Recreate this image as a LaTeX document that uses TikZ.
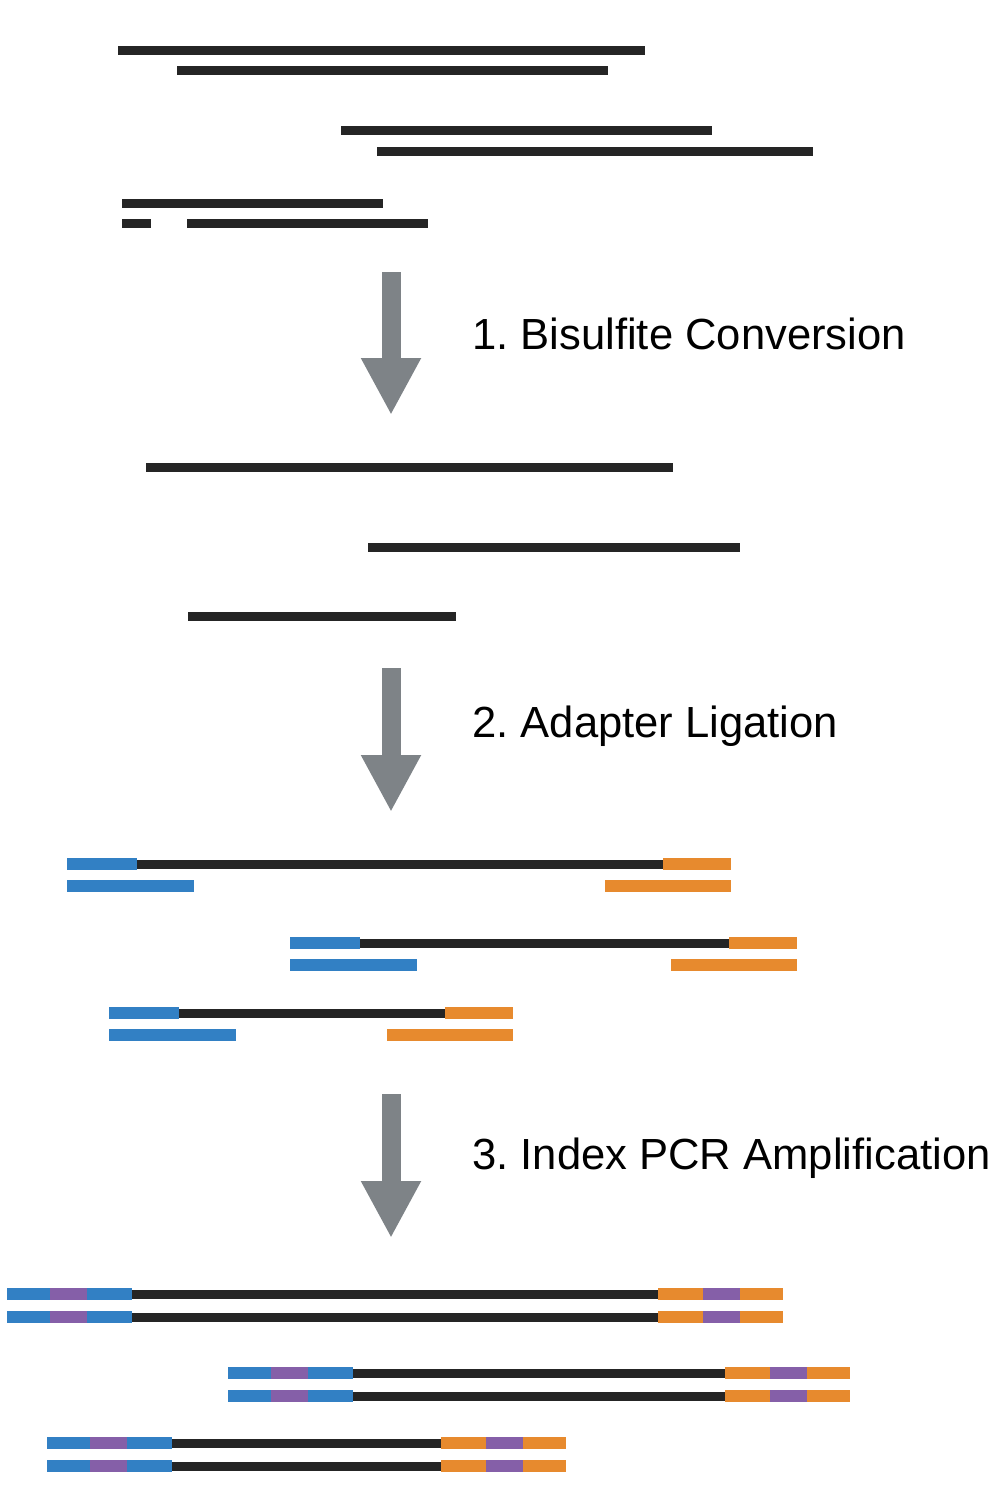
\documentclass[tikz,border=0pt]{standalone}
\usepackage{fontspec}
\setmainfont{Liberation Sans}
\usetikzlibrary{arrows.meta}
\frenchspacing

\definecolor{strandblack}{HTML}{252525}
\definecolor{adblue}{HTML}{3280C4}
\definecolor{adorange}{HTML}{E78A2E}
\definecolor{idxpurple}{HTML}{855FA8}
\definecolor{arrowgray}{HTML}{7E8387}

\begin{document}
\begin{tikzpicture}[x=0.02cm, y=-0.02cm,
  strand/.style={line width=0.18cm, draw=strandblack},
  adapt/.style={line width=0.24cm},
  steparrow/.style={line width=0.38cm, draw=arrowgray,
    -{Triangle[width=1.12cm, length=1.14cm, fill=arrowgray]}},
  steplabel/.style={anchor=base west, inner sep=0pt,
    font=\fontsize{24.8}{29}\selectfont}]
\useasboundingbox (0,0) rectangle (1002,1512);

% genomic DNA
\draw[strand] (118,50) -- (645,50);
\draw[strand] (177,70) -- (608,70);
\draw[strand] (341,130) -- (712,130);
\draw[strand] (377,151) -- (813,151);
\draw[strand] (122,203) -- (383,203);
\draw[strand] (122,223) -- (151,223);
\draw[strand] (187,223) -- (428,223);

% step 1
\coordinate (a1) at (391,272);
\coordinate (b1) at (391,415);
\draw[steparrow] (a1) -- (b1);
\node[steplabel] (conv) at (472,349) {1. Bisulfite Conversion};

% single strands
\draw[strand] (146,467) -- (673,467);
\draw[strand] (368,547) -- (740,547);
\draw[strand] (188,616) -- (456,616);

% step 2
\coordinate (a2) at (391,668);
\coordinate (b2) at (391,812);
\draw[steparrow] (a2) -- (b2);
\node[steplabel] (lig) at (472,737) {2. Adapter Ligation};

% adapters
\foreach \l/\r/\y in {67/731/864, 290/797/943, 109/513/1013} {
  \draw[strand] (\l+70,\y) -- (\r-68,\y);
  \draw[adapt, draw=adblue] (\l,\y) -- (\l+70,\y);
  \draw[adapt, draw=adorange] (\r-68,\y) -- (\r,\y);
  \draw[adapt, draw=adblue] (\l,\y+22) -- (\l+127,\y+22);
  \draw[adapt, draw=adorange] (\r-126,\y+22) -- (\r,\y+22);
}

% step 3
\coordinate (a3) at (391,1094);
\coordinate (b3) at (391,1238);
\draw[steparrow] (a3) -- (b3);
\node[steplabel] (pcr) at (472,1169) {3. Index PCR Amplification};

% indexed libraries
\foreach \l/\r/\y in {7/783/1294, 228/850/1373, 47/566/1443} {
  \foreach \yy in {\y, \y+23} {
    \draw[strand] (\l+125,\yy) -- (\r-125,\yy);
    \draw[adapt, draw=adblue] (\l,\yy) -- (\l+43,\yy);
    \draw[adapt, draw=idxpurple] (\l+43,\yy) -- (\l+80,\yy);
    \draw[adapt, draw=adblue] (\l+80,\yy) -- (\l+125,\yy);
    \draw[adapt, draw=adorange] (\r-125,\yy) -- (\r-80,\yy);
    \draw[adapt, draw=idxpurple] (\r-80,\yy) -- (\r-43,\yy);
    \draw[adapt, draw=adorange] (\r-43,\yy) -- (\r,\yy);
  }
}
\end{tikzpicture}
\end{document}
